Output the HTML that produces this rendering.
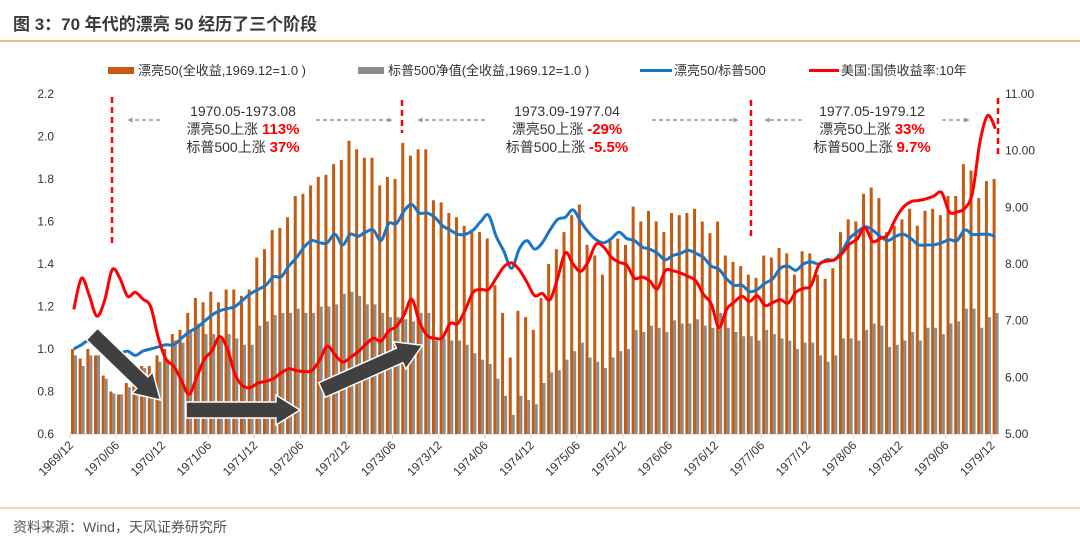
<!DOCTYPE html>
<html><head><meta charset="utf-8">
<style>
html,body{margin:0;padding:0;background:#fff;}
body{width:1080px;height:543px;overflow:hidden;font-family:"Liberation Sans","Noto Sans CJK SC",sans-serif;}
svg{display:block;}
</style></head>
<body>
<svg id="chart" width="1080" height="543" xmlns="http://www.w3.org/2000/svg" font-family="Liberation Sans, Noto Sans CJK SC, sans-serif">
  <text x="13" y="30" font-size="17" font-weight="bold" fill="#3a3a3a">图 3：70 年代的漂亮 50 经历了三个阶段</text>
  <line x1="0" y1="41" x2="1080" y2="41" stroke="#f4a460" stroke-width="1.5"/>
  <line x1="0" y1="508" x2="1080" y2="508" stroke="#f8c9a0" stroke-width="1.5"/>
  <text x="13" y="532" font-size="14" fill="#555">资料来源：Wind，天风证券研究所</text>

  <g font-size="13" fill="#333">
    <g><rect x="108" y="67" width="26" height="7" fill="#c55a11"/><text x="138" y="75">漂亮50(全收益,1969.12=1.0 )</text></g>
    <g><rect x="358" y="67" width="26" height="7" fill="#8c8c8c"/><text x="388" y="75">标普500净值(全收益,1969.12=1.0 )</text></g>
    <g><rect x="640" y="69" width="32" height="3" fill="#1a75c4"/><text x="674" y="75">漂亮50/标普500</text></g>
    <g><rect x="809" y="69" width="30" height="3" fill="#ff0000"/><text x="841" y="75">美国:国债收益率:10年</text></g>
  </g>
  <g id="axes"></g>
  <g id="bars"></g>
  <g id="lines"></g>
  <g id="annot"></g>
</svg>
<script>
const months = 121;
const labelsX = ["1969/12","1970/06","1970/12","1971/06","1971/12","1972/06","1972/12","1973/06","1973/12","1974/06","1974/12","1975/06","1975/12","1976/06","1976/12","1977/06","1977/12","1978/06","1978/12","1979/06","1979/12"];
const leftTicks = [0.6,0.8,1.0,1.2,1.4,1.6,1.8,2.0,2.2];
const rightTicks = [5,6,7,8,9,10,11];
const pretty50 = [1.0,0.955,1.0,0.97,0.875,0.80,0.786,0.84,0.88,0.92,0.92,0.97,1.0,1.07,1.09,1.17,1.24,1.22,1.27,1.22,1.28,1.28,1.25,1.28,1.43,1.47,1.56,1.57,1.62,1.72,1.73,1.77,1.81,1.82,1.87,1.89,1.98,1.94,1.90,1.90,1.77,1.81,1.80,1.97,1.91,1.94,1.94,1.70,1.69,1.64,1.62,1.58,1.55,1.55,1.52,1.30,1.17,0.96,1.18,1.15,1.09,1.24,1.40,1.47,1.55,1.63,1.68,1.49,1.44,1.35,1.52,1.52,1.49,1.67,1.60,1.65,1.60,1.55,1.64,1.63,1.64,1.66,1.60,1.545,1.60,1.44,1.41,1.39,1.35,1.335,1.44,1.43,1.475,1.45,1.35,1.46,1.45,1.35,1.33,1.38,1.55,1.61,1.60,1.73,1.76,1.71,1.55,1.58,1.61,1.66,1.58,1.65,1.66,1.63,1.72,1.72,1.87,1.84,1.71,1.79,1.80];
const sp500 = [0.97,0.92,0.97,0.97,0.86,0.79,0.786,0.82,0.91,0.91,0.88,0.94,0.95,1.04,1.03,1.08,1.12,1.07,1.07,1.05,1.07,1.05,1.02,1.02,1.11,1.13,1.16,1.17,1.17,1.19,1.17,1.17,1.20,1.20,1.21,1.26,1.27,1.25,1.21,1.21,1.17,1.15,1.15,1.14,1.13,1.17,1.17,1.04,1.05,1.04,1.04,1.02,0.98,0.95,0.93,0.86,0.78,0.69,0.78,0.76,0.74,0.84,0.89,0.90,0.95,0.99,1.03,0.96,0.94,0.91,0.96,0.99,1.0,1.09,1.08,1.11,1.10,1.08,1.135,1.12,1.12,1.14,1.11,1.10,1.17,1.10,1.08,1.06,1.06,1.04,1.09,1.07,1.05,1.04,1.0,1.03,1.03,0.97,0.94,0.97,1.05,1.05,1.04,1.09,1.12,1.11,1.01,1.02,1.04,1.08,1.04,1.10,1.10,1.07,1.12,1.13,1.19,1.19,1.10,1.15,1.17];
const ratio = [1.00,1.02,1.04,1.01,0.99,0.98,0.98,0.99,0.97,0.99,1.00,1.01,1.02,1.02,1.05,1.08,1.10,1.13,1.16,1.18,1.19,1.20,1.23,1.26,1.28,1.30,1.34,1.34,1.39,1.43,1.48,1.51,1.50,1.50,1.54,1.49,1.54,1.53,1.55,1.56,1.51,1.59,1.59,1.65,1.68,1.64,1.64,1.62,1.58,1.56,1.54,1.54,1.56,1.60,1.63,1.53,1.46,1.38,1.47,1.51,1.47,1.50,1.56,1.61,1.62,1.655,1.60,1.55,1.515,1.50,1.52,1.55,1.52,1.51,1.48,1.47,1.45,1.42,1.44,1.45,1.465,1.45,1.43,1.39,1.375,1.33,1.30,1.30,1.27,1.28,1.31,1.33,1.38,1.39,1.37,1.40,1.41,1.40,1.42,1.42,1.46,1.52,1.55,1.575,1.56,1.53,1.51,1.53,1.54,1.52,1.49,1.49,1.49,1.50,1.515,1.51,1.56,1.54,1.54,1.54,1.53];
const yield10 = [7.2,7.75,7.45,7.08,7.35,7.9,7.75,7.43,7.5,7.38,7.25,6.7,6.32,6.2,5.95,5.7,6.0,6.32,6.47,6.72,6.5,6.05,5.85,5.82,5.9,5.93,5.98,6.08,6.15,6.12,6.1,6.12,6.3,6.55,6.4,6.27,6.35,6.45,6.58,6.69,6.64,6.82,6.9,7.1,7.38,6.98,6.74,6.69,6.7,6.95,6.95,7.2,7.5,7.55,7.55,7.75,7.95,8.02,7.9,7.68,7.44,7.48,7.37,7.75,8.2,8.0,7.87,8.05,8.35,8.3,8.12,8.03,7.98,7.75,7.77,7.7,7.56,7.88,7.88,7.84,7.78,7.7,7.46,7.3,6.88,7.2,7.33,7.43,7.34,7.44,7.27,7.32,7.37,7.31,7.5,7.57,7.62,7.98,8.05,8.07,8.18,8.35,8.44,8.64,8.4,8.45,8.52,8.8,9.0,9.1,9.12,9.15,9.2,9.26,8.92,8.92,8.98,9.25,10.16,10.62,10.39];

const NS="http://www.w3.org/2000/svg";
const X0=70, STEP=7.68, YB=434, YT=94;
function xCat(i){return X0+STEP*i;}
function yL(v){return YB-(v-0.6)/(2.2-0.6)*(YB-YT);}
function yR(v){return YB-(v-5)/(11-5)*(YB-YT);}
function mk(tag,parent,attrs){const e=document.createElementNS(NS,tag);for(const k in attrs)e.setAttribute(k,attrs[k]);parent.appendChild(e);return e;}

const axes=document.getElementById('axes');
const ax=mk('line',axes,{x1:X0,y1:YB,x2:X0+STEP*months,y2:YB,stroke:'#d9d9d9','stroke-width':1});


labelsX.forEach((lab,k)=>{
  const x=xCat(k*6);
  const t=mk('line',axes,{x1:x,y1:YB,x2:x,y2:YB+5,stroke:'#d9d9d9'});
  
  
  const tx=mk('text',axes,{x:x+4,y:YB+12,'font-size':12,fill:'#333','text-anchor':'end',transform:`rotate(-45 ${x+4} ${YB+12})`});
  tx.textContent=lab;
  
  
});
leftTicks.forEach(v=>{
  const t=mk('text',axes,{x:54,y:yL(v)+4,'font-size':12,fill:'#333','text-anchor':'end'});
  t.textContent=v.toFixed(1);
  
  
});
rightTicks.forEach(v=>{
  const t=mk('text',axes,{x:1005,y:yR(v)+4,'font-size':12,fill:'#333'});
  t.textContent=v.toFixed(2);
  
  
});

const bars=document.getElementById('bars');
for(let i=0;i<months;i++){
  const x=xCat(i);
  const yo=yL(pretty50[i]);
  const b1=mk('rect',bars,{x:x+1,y:yo,width:3,height:YB-yo,fill:'#c55a11'});
  
  
  const yg=yL(sp500[i]);
  const b2=mk('rect',bars,{x:x+4,y:yg,width:3,height:YB-yg,fill:'#8c8c8c'});
  
  
}

function smooth(pts){
  let d=`M${pts[0][0]},${pts[0][1]}`;
  for(let i=0;i<pts.length-1;i++){
    const p0=pts[Math.max(0,i-1)],p1=pts[i],p2=pts[i+1],p3=pts[Math.min(pts.length-1,i+2)];
    const c1=[p1[0]+(p2[0]-p0[0])/6,p1[1]+(p2[1]-p0[1])/6];
    const c2=[p2[0]-(p3[0]-p1[0])/6,p2[1]-(p3[1]-p1[1])/6];
    d+=` C${c1[0].toFixed(1)},${c1[1].toFixed(1)} ${c2[0].toFixed(1)},${c2[1].toFixed(1)} ${p2[0].toFixed(1)},${p2[1].toFixed(1)}`;
  }
  return d;
}
const lines=document.getElementById('lines');
const bl=mk('path',lines,{d:smooth(ratio.map((v,i)=>[xCat(i)+3.8,yL(v)])),fill:'none',stroke:'#1a75c4','stroke-width':3,'stroke-linejoin':'round'});


const rl=mk('path',lines,{d:smooth(yield10.map((v,i)=>[xCat(i)+3.8,yR(v)])),fill:'none',stroke:'#ff0000','stroke-width':3,'stroke-linejoin':'round'});


</script>
<svg style="position:absolute;left:0;top:0" width="1080" height="543" xmlns="http://www.w3.org/2000/svg" font-family="Liberation Sans, Noto Sans CJK SC, sans-serif">
  <defs>
    <marker id="ga" viewBox="0 0 10 10" refX="5" refY="5" markerWidth="3.5" markerHeight="3.5" orient="auto"><path d="M0,0 L10,5 L0,10 z" fill="#999"/></marker>
  </defs>
  <g stroke="#ff0000" stroke-width="2.5" stroke-dasharray="6,4">
    <line x1="112" y1="97" x2="112" y2="243"/>
    <line x1="402" y1="100" x2="402" y2="133"/>
    <line x1="751" y1="100" x2="751" y2="240"/>
    <line x1="998" y1="98" x2="998" y2="156"/>
  </g>
  <g stroke="#999" stroke-width="1.5" stroke-dasharray="4,3" marker-end="url(#ga)">
    <line x1="160" y1="120" x2="130" y2="120"/>
    <line x1="316" y1="120" x2="390" y2="120"/>
    <line x1="485" y1="120" x2="420" y2="120"/>
    <line x1="652" y1="120" x2="736" y2="120"/>
    <line x1="802" y1="120" x2="767" y2="120"/>
    <line x1="942" y1="120" x2="967" y2="120"/>
  </g>
  <g font-size="14" text-anchor="middle" fill="#333">
    <text x="243" y="116">1970.05-1973.08</text>
    <text x="243" y="134">漂亮50上涨 <tspan fill="#ff0000" font-weight="bold" font-size="15">113%</tspan></text>
    <text x="243" y="152">标普500上涨 <tspan fill="#ff0000" font-weight="bold" font-size="15">37%</tspan></text>
  </g>
  <g font-size="14" text-anchor="middle" fill="#333">
    <text x="567" y="116">1973.09-1977.04</text>
    <text x="567" y="134">漂亮50上涨 <tspan fill="#ff0000" font-weight="bold" font-size="15">-29%</tspan></text>
    <text x="567" y="152">标普500上涨 <tspan fill="#ff0000" font-weight="bold" font-size="15">-5.5%</tspan></text>
  </g>
  <g font-size="14" text-anchor="middle" fill="#333">
    <text x="872" y="116">1977.05-1979.12</text>
    <text x="872" y="134">漂亮50上涨 <tspan fill="#ff0000" font-weight="bold" font-size="15">33%</tspan></text>
    <text x="872" y="152">标普500上涨 <tspan fill="#ff0000" font-weight="bold" font-size="15">9.7%</tspan></text>
  </g>
  <g fill="#404040" stroke="#fff" stroke-width="1.5">
    <path d="M0,-8 L70,-8 L70,-15 L95,0 L70,15 L70,8 L0,8 Z" transform="translate(92,334) rotate(44)"/>
    <path d="M0,-8 L90,-8 L90,-15 L114,0 L90,15 L90,8 L0,8 Z" transform="translate(186,410)"/>
    <path d="M0,-8 L85,-8 L85,-15 L110,0 L85,15 L85,8 L0,8 Z" transform="translate(322,390) rotate(-24)"/>
  </g>
</svg>
</body></html>
